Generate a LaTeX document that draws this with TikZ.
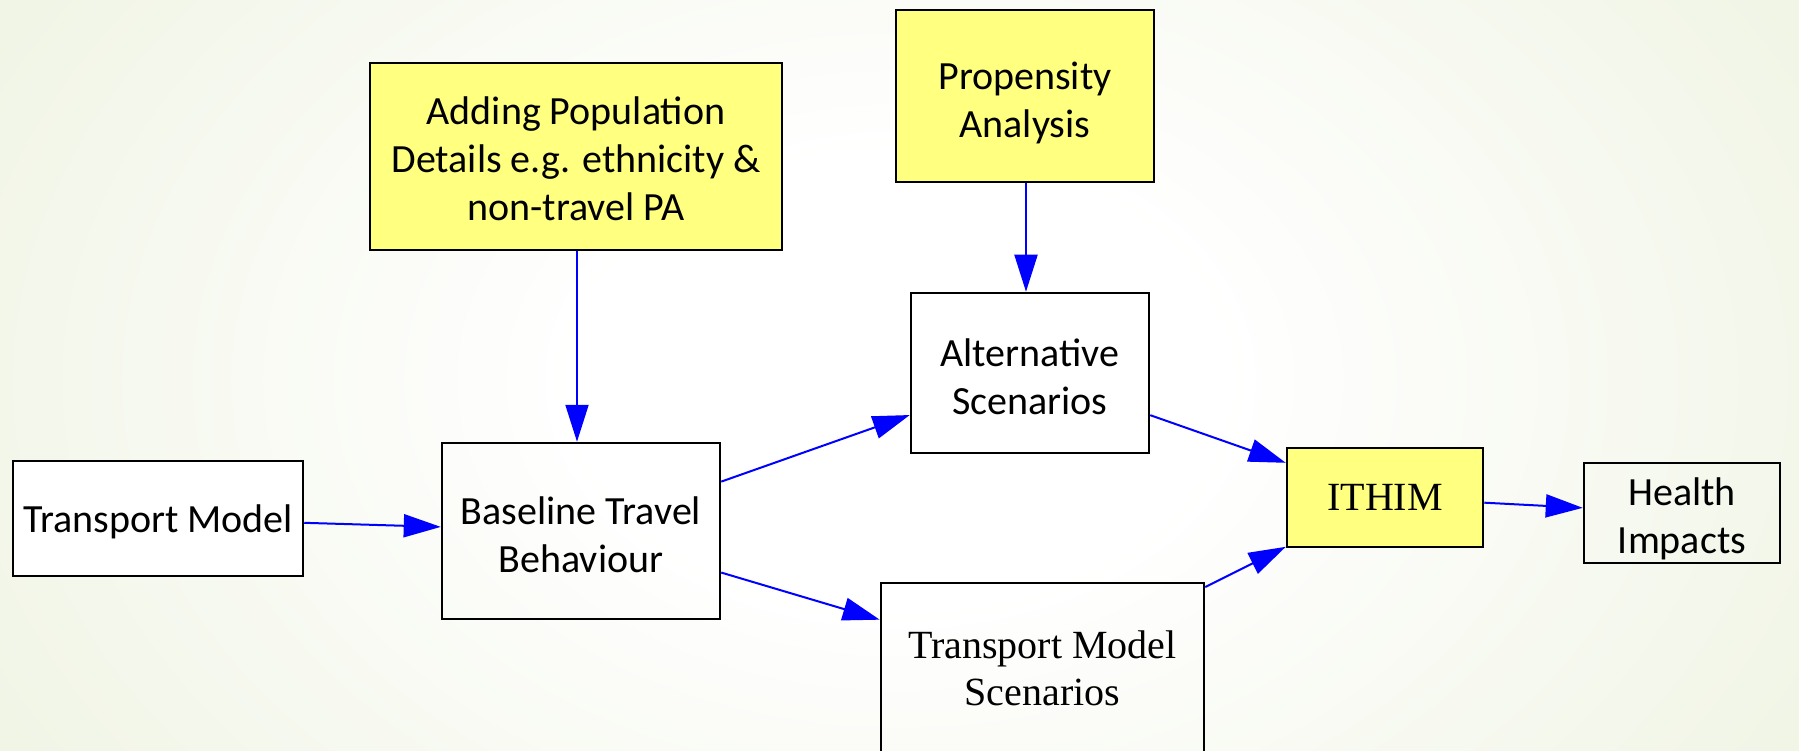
\documentclass[tikz,border=0pt]{standalone}
\usepackage{fontspec}
\setmainfont{Carlito}
\newfontfamily\timesf{Liberation Serif}
\usetikzlibrary{arrows.meta}
\definecolor{bgG}{RGB}{225,234,202}
\definecolor{boxY}{RGB}{255,255,128}
\pgfdeclareradialshading{bgshade}{\pgfpoint{0bp}{0bp}}{color(0bp)=(white); color(8bp)=(white); color(45bp)=(bgG); color(50bp)=(bgG)}
\newcommand\dn[2][5pt]{\raisebox{-#1}[\height][\depth]{\begin{tabular}{@{}c@{}}#2\end{tabular}}}
\begin{document}
\begin{tikzpicture}[x=1pt,y=-1pt,
 box/.style={draw=black, line width=2.5pt, inner sep=0pt, align=center},
 sans/.style={font=\fontsize{40}{48}\selectfont},
 ybox/.style={box, fill=boxY},
 serif/.style={font=\timesf\fontsize{40}{47}\selectfont},
 link/.style={draw=blue, line width=2pt, -{Triangle[length=37pt,width=23pt]}}]
\useasboundingbox (0,0) rectangle (1799,751);
\begin{scope}
\clip (0,0) rectangle (1799,751);
\shade[shading=bgshade] (-100,-320) rectangle (1900,1080);
\end{scope}
\node[box, sans, fill=white, minimum width=290pt, minimum height=115pt] (tm) at (158,518.5) {\dn[4pt]{Transport Model}};
\node[box, sans, minimum width=278pt, minimum height=176pt] (base) at (581,531) {\dn[8pt]{Baseline Travel\\Behaviour}};
\node[ybox, sans, minimum width=412pt, minimum height=187pt] (add) at (576,156.5) {\dn[6pt]{Adding Population\\Details e.g. ethnicity \&\\non-travel PA}};
\node[ybox, sans, minimum width=258pt, minimum height=172pt] (prop) at (1025,96) {\dn[8pt]{Propensity\\Analysis}};
\node[box, sans, minimum width=238pt, minimum height=160pt] (alt) at (1030,373) {\dn[8pt]{Alternative\\Scenarios}};
\node[ybox, serif, minimum width=196pt, minimum height=99pt] (ithim) at (1385,497.5) {ITHIM};
\node[box, sans, minimum width=196pt, minimum height=100pt] (health) at (1682,513) {\dn[7pt]{Health\\Impacts}};
\node[box, serif, minimum width=323pt, minimum height=170pt] (tms) at (1042.5,668) {Transport Model\\Scenarios};
\draw[link] (tm) -- (base);
\draw[link] ([xshift=1pt]add.south) -- ([xshift=1pt]add.south |- base.north);
\draw[link] ([xshift=1pt]prop.south) -- ([xshift=1pt]prop.south |- alt.north);
\draw[link] (base) -- (alt);
\draw[link] (base) -- (tms);
\draw[link] (alt) -- (ithim);
\draw[link] (tms) -- (ithim);
\draw[link] (ithim) -- (health);
\end{tikzpicture}
\end{document}
